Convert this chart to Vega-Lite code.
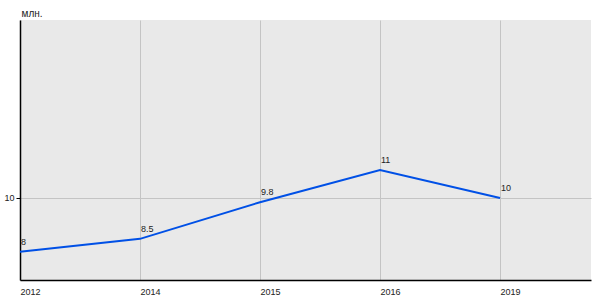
{
  "$schema": "https://vega.github.io/schema/vega-lite/v6.json",
  "width": 571,
  "height": 260,
  "autosize": "none",
  "padding": {"left": 20, "top": 20, "right": 9, "bottom": 20},
  "background": "white",
  "config": {
    "view": {"fill": "#e9e9e9", "stroke": null},
    "font": "Liberation Sans",
    "axis": {"labelFont": "Liberation Sans", "labelFontSize": 9, "labelColor": "#222", "gridColor": "#c4c4c4", "gridWidth": 1, "domainColor": "#000", "domainWidth": 1.5, "tickColor": "#000", "titleFontWeight": 400}
  },
  "data": {
    "values": [
      {"idx": 0, "year": "2012", "value": 8.08, "label": "8"},
      {"idx": 1, "year": "2014", "value": 8.54, "label": "8.5"},
      {"idx": 2, "year": "2015", "value": 9.85, "label": "9.8"},
      {"idx": 3, "year": "2016", "value": 11.0, "label": "11"},
      {"idx": 4, "year": "2019", "value": 10.0, "label": "10"}
    ]
  },
  "encoding": {
    "x": {
      "field": "idx", "type": "quantitative",
      "scale": {"domain": [0, 4.758], "nice": false, "zero": false},
      "axis": {"values": [0, 1, 2, 3, 4], "title": null, "grid": true, "ticks": false,
        "labelExpr": "['2012','2014','2015','2016','2019'][datum.value]",
        "labelAlign": "left", "labelPadding": 7, "labelFlush": false}
    },
    "y": {
      "field": "value", "type": "quantitative",
      "scale": {"domain": [7.07, 16.36], "nice": false, "zero": false},
      "axis": {"values": [10], "grid": true, "tickSize": 4, "labelPadding": 2,
        "title": "млн.", "titleAngle": 0, "titleAlign": "left", "titleBaseline": "alphabetic",
        "titleX": 1, "titleY": -4, "titleFontWeight": 400, "titleFontSize": 10, "titleColor": "#222", "titleFont": "Liberation Sans"}
    }
  },
  "layer": [
    {"mark": {"type": "line", "color": "#0050e6", "strokeWidth": 2}},
    {"mark": {"type": "text", "align": "left", "baseline": "alphabetic", "dx": 1, "dy": -7, "fontSize": 9, "color": "#222", "font": "Liberation Sans"},
     "encoding": {"text": {"field": "label"}}}
  ]
}
